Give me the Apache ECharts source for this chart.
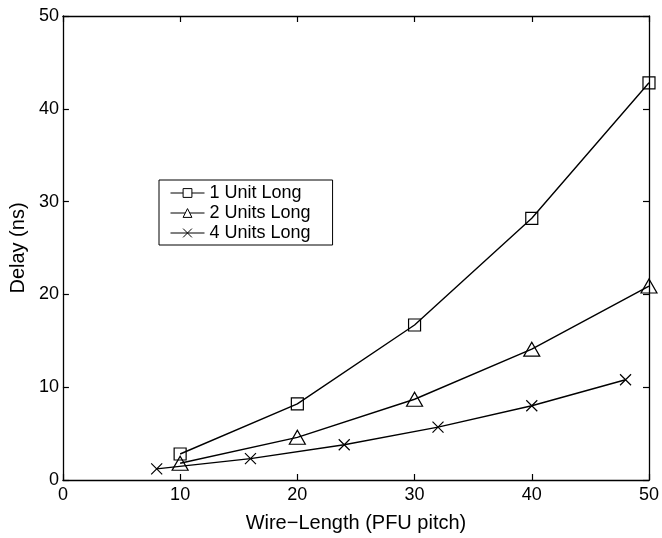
<!DOCTYPE html>
<html>
<head>
<meta charset="utf-8">
<script src="https://cdn.jsdelivr.net/npm/echarts@6/dist/echarts.min.js"></script>
<style>
  html, body { margin: 0; padding: 0; background: #fff; }
  #chart { width: 662px; height: 538px; }
</style>
</head>
<body>
<div id="chart"></div>
<script>
// values
const seriesNames = ['1 Unit Long', '2 Units Long', '4 Units Long'];
const x1 = [10, 20, 30, 40, 50];
const y1 = [2.8, 8.2, 16.7, 28.2, 42.8];
const x2 = [10, 20, 30, 40, 50];
const y2 = [1.8, 4.6, 8.7, 14.1, 20.9];
const x4 = [8, 16, 24, 32, 40, 48];
const y4 = [1.2, 2.3, 3.8, 5.7, 8.0, 10.8];
const xTicks = [0, 10, 20, 30, 40, 50];
const yTicks = [0, 10, 20, 30, 40, 50];

const pairs = (xs, ys) => xs.map((x, i) => [x, ys[i]]);

const squarePath = 'path://M0,0L10,0L10,10L0,10Z';
const trianglePath = 'path://M5,0L10,9L0,9Z';
const crossPath = 'path://M0,0L10,10M10,0L0,10';

const font = 'Liberation Sans, Arial, Helvetica, sans-serif';

function mkSeries(name, data, symbol, size) {
  return {
    name: name,
    type: 'line',
    data: data,
    symbol: symbol,
    symbolSize: size,
    showAllSymbol: true,
    lineStyle: { color: '#000', width: 1.4 },
    itemStyle: { color: 'rgba(255,255,255,0)', borderColor: '#000', borderWidth: 1.2 },
    emphasis: { disabled: true },
    z: 3
  };
}

const chart = echarts.init(document.getElementById('chart'));

const baseX = {
  type: 'value', min: 0, max: 50, interval: 10,
  axisLine: { show: true, onZero: false, lineStyle: { color: '#000', width: 1.3 } },
  axisTick: { show: true, inside: true, length: 6, lineStyle: { color: '#000', width: 1.2 } },
  splitLine: { show: false }
};

chart.setOption({
  animation: false,
  backgroundColor: '#fff',
  grid: { left: 57, right: 11, top: 16, bottom: 49, containLabel: false },
  legend: {
    orient: 'vertical',
    left: 159, top: 180,
    data: seriesNames,
    itemWidth: 34, itemHeight: 11, itemGap: 2,
    padding: [4, 22, 3, 11],
    borderColor: '#000', borderWidth: 1, backgroundColor: '#fff',
    itemStyle: { color: '#fff', borderColor: '#000', borderWidth: 1 },
    lineStyle: { color: '#000', width: 1 },
    textStyle: { fontFamily: font, fontSize: 18, color: '#000' }
  },
  xAxis: [
    Object.assign({}, baseX, {
      position: 'bottom',
      name: 'Wire\u2212Length (PFU pitch)', nameLocation: 'middle', nameGap: 33,
      nameTextStyle: { fontFamily: font, fontSize: 20, color: '#000' },
      axisLabel: { fontFamily: font, fontSize: 18, color: '#000', margin: 6,
        formatter: v => xTicks.includes(v) ? String(v) : '' }
    }),
    Object.assign({}, baseX, { position: 'top', axisLabel: { show: false } })
  ],
  yAxis: [
    Object.assign({}, baseX, {
      position: 'left',
      name: 'Delay (ns)', nameLocation: 'middle', nameGap: 32,
      nameTextStyle: { fontFamily: font, fontSize: 20, color: '#000' },
      axisLabel: { fontFamily: font, fontSize: 18, color: '#000', margin: 4,
        formatter: v => yTicks.includes(v) ? String(v) : '' }
    }),
    Object.assign({}, baseX, { position: 'right', axisLabel: { show: false } })
  ],
  series: [
    mkSeries(seriesNames[0], pairs(x1, y1), squarePath, 12),
    mkSeries(seriesNames[1], pairs(x2, y2), trianglePath, [16, 14]),
    mkSeries(seriesNames[2], pairs(x4, y4), crossPath, 11)
  ]
});
</script>
</body>
</html>
